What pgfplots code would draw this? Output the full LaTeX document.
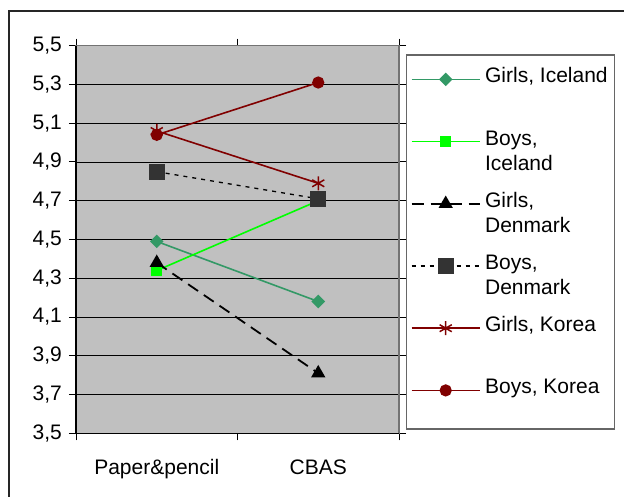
\documentclass[border=0pt]{standalone}
\usepackage{fontspec}
\setmainfont{Liberation Sans}
\usepackage{pgfplots}
\pgfplotsset{compat=1.18}
\definecolor{bgc}{HTML}{C0C0C0}
\definecolor{gic}{HTML}{339966}
\definecolor{bic}{HTML}{00FF00}
\definecolor{krc}{HTML}{800000}
\definecolor{bdc}{HTML}{333333}
\newcommand{\twol}[2]{\vtop{\hbox{#1}\hbox{#2}}}
\begin{document}
\fontsize{21bp}{25bp}\selectfont
\begin{tikzpicture}
\useasboundingbox (0,0) rectangle (624bp,-497bp);
\draw[line width=1.2bp, black!85] (624bp,-11bp) -- (9bp,-11bp) -- (9bp,-497bp);
\begin{axis}[
  at={(76bp,-433.3bp)}, anchor=south west,
  scale only axis, width=323bp, height=387.6bp,
  xmin=-0.5, xmax=1.5, ymin=3.5, ymax=5.5,
  axis background/.style={fill=bgc},
  axis line style={draw=gray!90!black, line width=1.5bp},
  xtick={-0.5,0.5,1.5}, xticklabels={},
  extra x ticks={0,1},
  extra x tick labels={Paper\&pencil, CBAS},
  extra x tick style={major tick length=0pt, grid=none},
  xticklabel style={yshift=-19bp},
  ytick={3.5,3.7,3.9,4.1,4.3,4.5,4.7,4.9,5.1,5.3,5.5},
  yticklabel style={/pgf/number format/.cd, fixed, fixed zerofill, precision=1, use comma, assume math mode=true},
  tick align=outside, major tick length=7bp,
  tick style={black, line width=1bp},
  ymajorgrids, major grid style={black, line width=0.9bp},
  tick label style={font=\fontsize{21bp}{25bp}\selectfont},
  legend style={at={(1,1)}, anchor=north west, xshift=6.7bp, yshift=-8.6bp,
    draw=gray!80!black, line width=1.2bp, fill=white,
    inner xsep=4.5bp, inner ysep=4bp, row sep=7.2bp, column sep=0bp,
    font=\fontsize{21bp}{25bp}\selectfont,
    nodes={inner xsep=2.5bp, inner ysep=2bp, text height=22bp, text depth=29bp}},
  legend cell align=left,
  legend image code/.code={\path (0bp,0bp) (70bp,7bp);\draw[mark repeat=2, mark phase=2] plot coordinates {(0bp,7bp) (34bp,7bp) (68bp,7bp)};},
  after end axis/.code={\draw[black, line width=1.5bp] (rel axis cs:0,1) -- (rel axis cs:0,0) -- (rel axis cs:1,0);},
]
\addplot[gic, line width=1.6bp, mark=square*, mark size=4bp, mark options={rotate=45, fill=gic}]
  coordinates {(0,4.49) (1,4.18)};
\addlegendentry{Girls,\ Iceland}
\addplot[bic, line width=1.6bp, mark=square*, mark size=4.5bp, mark options={fill=bic}]
  coordinates {(0,4.34) (1,4.70)};
\addlegendentry{\twol{Boys,}{Iceland}}
\addplot[black, line width=1.8bp, dash pattern=on 12bp off 7bp, mark=triangle*, mark size=6.5bp, mark options={solid, fill=black}]
  coordinates {(0,4.38) (1,3.81)};
\addlegendentry{\twol{Girls,}{Denmark}}
\addplot[black, line width=1.3bp, dash pattern=on 4bp off 5bp, mark=square*, mark size=7.5bp, mark options={solid, draw=bdc, fill=bdc}]
  coordinates {(0,4.85) (1,4.71)};
\addlegendentry{\twol{Boys,}{Denmark}}
\addplot[krc, line width=1.6bp, mark=asterisk, mark size=7bp, mark options={solid, line width=1.5bp}]
  coordinates {(0,5.06) (1,4.79)};
\addlegendentry{Girls,\ Korea}
\addplot[krc, line width=1.6bp, mark=*, mark size=5.3bp, mark options={fill=krc}]
  coordinates {(0,5.04) (1,5.31)};
\addlegendentry{Boys,\ Korea}
\end{axis}
\end{tikzpicture}
\end{document}
